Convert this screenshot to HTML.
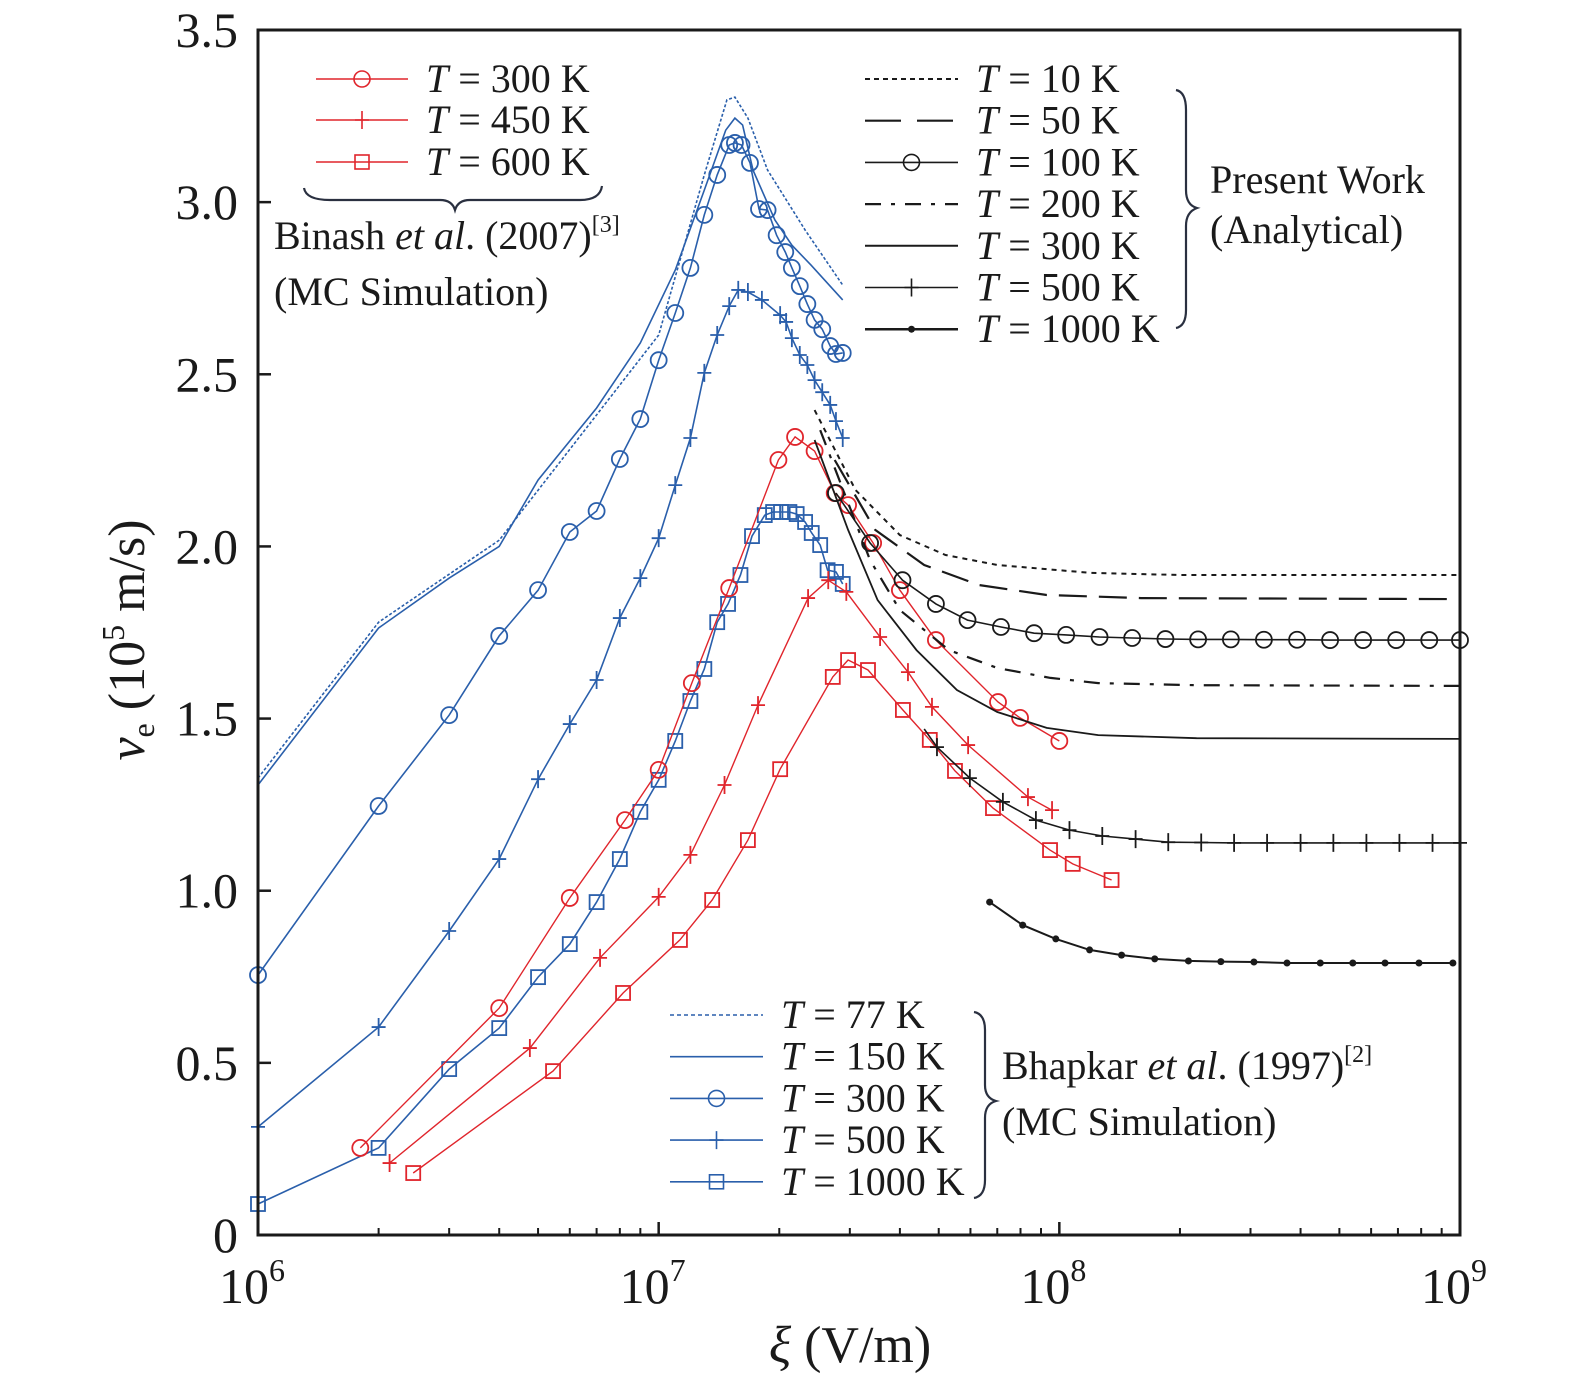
<!DOCTYPE html>
<html><head><meta charset="utf-8"><style>
html,body{margin:0;padding:0;background:#fff;}
svg{display:block;font-family:"Liberation Serif",serif;}
</style></head><body>
<svg id="chart" width="1575" height="1386" viewBox="0 0 1575 1386" xmlns="http://www.w3.org/2000/svg"></svg>
<script>
// ---- data ----
const yTicks = [0, 0.5, 1.0, 1.5, 2.0, 2.5, 3.0, 3.5];
const yTickLabels = ["0", "0.5", "1.0", "1.5", "2.0", "2.5", "3.0", "3.5"];
const xDecades = [6, 7, 8, 9];

// Bhapkar (blue)
const b77x = [1e6,2e6,4e6,1e7,1.3e7,1.48e7,1.55e7,1.67e7,1.87e7,2.32e7,2.88e7];
const b77y = [1.327,1.78,2.018,2.614,3.079,3.297,3.305,3.244,3.093,2.919,2.759];
const b150x = [1e6,2e6,3e6,4e6,5e6,7e6,9e6,1.1e7,1.3e7,1.47e7,1.55e7,1.62e7,1.72e7,1.95e7,2.15e7,2.4e7,2.88e7];
const b150y = [1.307,1.763,1.908,2.0,2.193,2.402,2.591,2.803,3.035,3.209,3.244,3.224,3.093,2.948,2.875,2.817,2.716];
const b300x = [1e6,2e6,3e6,4e6,5e6,6e6,7e6,8e6,9e6,1e7,1.1e7,1.2e7,1.3e7,1.4e7,1.5e7,1.55e7,1.61e7,1.69e7,1.78e7,1.87e7,1.97e7,2.07e7,2.15e7,2.25e7,2.35e7,2.45e7,2.56e7,2.68e7,2.77e7,2.88e7];
const b300y = [0.755,1.246,1.51,1.74,1.873,2.042,2.103,2.254,2.37,2.541,2.678,2.809,2.963,3.079,3.166,3.172,3.166,3.114,2.98,2.977,2.904,2.855,2.809,2.756,2.704,2.658,2.631,2.582,2.559,2.562];
const b500x = [1e6,2e6,3e6,4e6,5e6,6e6,7e6,8e6,9e6,1e7,1.1e7,1.2e7,1.3e7,1.4e7,1.5e7,1.58e7,1.67e7,1.81e7,2.01e7,2.08e7,2.15e7,2.25e7,2.35e7,2.45e7,2.56e7,2.68e7,2.77e7,2.88e7];
const b500y = [0.314,0.604,0.883,1.092,1.324,1.484,1.612,1.792,1.908,2.024,2.178,2.315,2.504,2.614,2.698,2.745,2.739,2.716,2.672,2.652,2.605,2.556,2.527,2.483,2.448,2.411,2.364,2.315];
const b1000x = [1e6,2e6,3e6,4e6,5e6,6e6,7e6,8e6,9e6,1e7,1.1e7,1.2e7,1.3e7,1.4e7,1.49e7,1.6e7,1.71e7,1.84e7,1.93e7,2.02e7,2.12e7,2.21e7,2.32e7,2.41e7,2.53e7,2.64e7,2.77e7,2.88e7];
const b1000y = [0.09,0.253,0.482,0.601,0.749,0.845,0.967,1.092,1.229,1.322,1.435,1.551,1.644,1.78,1.833,1.917,2.03,2.091,2.1,2.1,2.1,2.094,2.071,2.039,2.004,1.931,1.926,1.891];

// Binash (red)
const r300x = [1.8e6,4e6,6e6,8.24e6,1e7,1.21e7,1.5e7,1.99e7,2.19e7,2.45e7,2.75e7,2.97e7,3.43e7,4e7,4.92e7,7.03e7,7.98e7,1e8];
const r300y = [0.253,0.659,0.979,1.205,1.351,1.603,1.879,2.251,2.318,2.277,2.155,2.12,2.01,1.873,1.728,1.548,1.502,1.435];
const r450x = [2.13e6,4.77e6,7.14e6,1e7,1.2e7,1.46e7,1.77e7,2.36e7,2.65e7,2.94e7,3.57e7,4.19e7,4.81e7,5.92e7,8.35e7,9.59e7];
const r450y = [0.209,0.543,0.805,0.982,1.104,1.307,1.539,1.85,1.902,1.868,1.737,1.635,1.534,1.423,1.272,1.234];
const r600x = [2.44e6,5.45e6,8.15e6,1.13e7,1.36e7,1.67e7,2.01e7,2.72e7,2.97e7,3.33e7,4.07e7,4.75e7,5.49e7,6.83e7,9.48e7,1.08e8,1.35e8];
const r600y = [0.18,0.476,0.703,0.857,0.973,1.147,1.353,1.621,1.67,1.641,1.525,1.438,1.348,1.24,1.118,1.078,1.031];

// Present work (black)
const k10x = [2.45e7,3.1e7,4e7,5.2e7,7e7,1.2e8,2e8,1e9];
const k10y = [2.396,2.164,2.033,1.975,1.946,1.923,1.917,1.917];
const k50x = [2.75e7,3.47e7,4.6e7,6.3e7,9.3e7,1.6e8,1e9];
const k50y = [2.251,2.048,1.946,1.888,1.859,1.85,1.847];
const k100x = [2.77e7,3.37e7,4.06e7,4.92e7,5.9e7,7.15e7,8.65e7,1.04e8,1.26e8,1.52e8,1.84e8,2.22e8,2.68e8,3.24e8,3.92e8,4.74e8,5.73e8,6.93e8,8.38e8,1e9];
const k100y = [2.155,2.01,1.902,1.833,1.786,1.766,1.748,1.743,1.737,1.734,1.731,1.73,1.73,1.729,1.729,1.728,1.728,1.728,1.728,1.728];
const k200x = [2.53e7,3.37e7,4e7,5.3e7,7e7,9.5e7,1.25e8,2.2e8,1e9];
const k200y = [2.338,1.96,1.815,1.699,1.647,1.618,1.603,1.597,1.595];
const k300x = [2.45e7,2.97e7,3.52e7,4.4e7,5.55e7,7e7,9.3e7,1.25e8,2.2e8,1e9];
const k300y = [2.309,2.048,1.844,1.699,1.583,1.519,1.473,1.452,1.443,1.441];
const k500x = [4.6e7,4.95e7,5.98e7,7.23e7,8.74e7,1.06e8,1.28e8,1.55e8,1.87e8,2.26e8,2.73e8,3.3e8,4e8,4.83e8,5.84e8,7.06e8,8.54e8,1e9];
const k500y = [1.47,1.417,1.327,1.258,1.205,1.176,1.159,1.15,1.141,1.14,1.139,1.139,1.139,1.139,1.139,1.139,1.139,1.139];
const k1000x = [6.7e7,8.1e7,9.8e7,1.19e8,1.43e8,1.73e8,2.1e8,2.53e8,3.06e8,3.7e8,4.48e8,5.4e8,6.5e8,7.9e8,9.6e8];
const k1000y = [0.967,0.9,0.86,0.828,0.813,0.802,0.796,0.794,0.793,0.79,0.79,0.79,0.79,0.79,0.79];

// ---- layout ----
const L=258,R=1460,T=30,B=1235;
const xs = v => L + (Math.log10(v)-6)/3*(R-L);
const ys = v => B - v/3.5*(B-T);
const NS="http://www.w3.org/2000/svg";
const svg=document.getElementById('chart');
function mk(tag,attrs,parent){const e=document.createElementNS(NS,tag);for(const k in attrs)e.setAttribute(k,attrs[k]);(parent||svg).appendChild(e);return e;}
const RED="#e0252c", BLUE="#2a5fab", BLK="#1a1a1a";

function marker(g,type,x,y,c,w){
  if(type==='circle'){const m=mk('circle',{cx:x,cy:y,r:8,fill:'none',stroke:c,'stroke-width':w||2},g);}
  else if(type==='square'){const m=mk('rect',{x:x-7,y:y-7,width:14,height:14,fill:'none',stroke:c,'stroke-width':w||2},g);}
  else if(type==='plus'){const m=mk('path',{d:`M${x-7},${y}H${x+7}M${x},${y-9}V${y+9}`,stroke:c,'stroke-width':w||2,fill:'none'},g);}
  else if(type==='dot'){const m=mk('circle',{cx:x,cy:y,r:3.5,fill:c},g);}
}
function series(name,xa,ya,c,w,dash,mtype){
  const g=mk('g',{});
  
  
  const d=xa.map((v,i)=>(i?'L':'M')+xs(v).toFixed(1)+','+ys(ya[i]).toFixed(1)).join('');
  const p=mk('path',{d:d,fill:'none',stroke:c,'stroke-width':w,'stroke-dasharray':dash||'none'},g);
  
  
  if(mtype) xa.forEach((v,i)=>{ if(name==='present-500k'&&i===0) return; marker(g,mtype,xs(v),ys(ya[i]),c,mtype==='dot'?0:1.8);});
}

series('bhapkar-77k',b77x,b77y,BLUE,1.6,'3,2',null);
series('bhapkar-150k',b150x,b150y,BLUE,1.6,null,null);
series('bhapkar-300k',b300x,b300y,BLUE,1.6,null,'circle');
series('bhapkar-500k',b500x,b500y,BLUE,1.6,null,'plus');
series('bhapkar-1000k',b1000x,b1000y,BLUE,1.6,null,'square');
series('binash-300k',r300x,r300y,RED,1.4,null,'circle');
series('binash-450k',r450x,r450y,RED,1.4,null,'plus');
series('binash-600k',r600x,r600y,RED,1.4,null,'square');
series('present-10k',k10x,k10y,BLK,2,'5,5',null);
series('present-50k',k50x,k50y,BLK,2.2,'28,12',null);
series('present-100k',k100x,k100y,BLK,1.6,null,'circle');
series('present-200k',k200x,k200y,BLK,2.2,'16,10,4,10',null);
series('present-300k',k300x,k300y,BLK,1.8,null,null);
series('present-500k',k500x,k500y,BLK,1.6,null,'plus');
series('present-1000k',k1000x,k1000y,BLK,2,null,'dot');

const frame=mk('rect',{x:L,y:T,width:R-L,height:B-T,fill:'none',stroke:BLK,'stroke-width':3});



yTicks.forEach((v,i)=>{
  const y=ys(v);
  const t=mk('line',{x1:L,x2:L+13,y1:y,y2:y,stroke:BLK,'stroke-width':2.5});
  
  
  const lb=mk('text',{x:L-20,y:y+17,'text-anchor':'end','font-size':50,fill:BLK});
  lb.textContent=yTickLabels[i];
  
  
});
xDecades.forEach((d,i)=>{
  const x=xs(Math.pow(10,d));
  const t=mk('line',{x1:x,x2:x,y1:B,y2:B-13,stroke:BLK,'stroke-width':2.5});
  
  
  const lb=mk('text',{x:x-6,y:B+68,'text-anchor':'middle','font-size':50,fill:BLK});
  lb.innerHTML='10<tspan dy="-22" font-size="32">'+d+'</tspan>';
  
  
  if(i<3){for(let m=2;m<=9;m++){const xm=xs(m*Math.pow(10,d));
    const tm=mk('line',{x1:xm,x2:xm,y1:B,y2:B-7,stroke:BLK,'stroke-width':2});
    
    }}
});
const xt=mk('text',{x:850,y:1362,'text-anchor':'middle','font-size':52,fill:BLK});
xt.innerHTML='<tspan font-style="italic">ξ</tspan> (V/m)';


const yt=mk('text',{x:0,y:0,'text-anchor':'middle','font-size':52,fill:BLK,transform:'translate(144,640) rotate(-90)'});
yt.innerHTML='<tspan font-style="italic">v</tspan><tspan font-size="32" dy="10">e</tspan><tspan dy="-10"> (10</tspan><tspan font-size="32" dy="-20">5</tspan><tspan dy="20"> m/s)</tspan>';



function legendEntry(name,x1,x2,y,c,w,dash,mtype,label){
  const g=mk('g',{});
  
  
  mk('line',{x1:x1,x2:x2,y1:y,y2:y,stroke:c,'stroke-width':w,'stroke-dasharray':dash||'none'},g);
  if(mtype) marker(g,mtype,(x1+x2)/2,y,c,mtype==='dot'?0:1.6);
  const t=mk('text',{x:x2+18,y:y+13,'font-size':40,fill:BLK},g);
  t.innerHTML='<tspan font-style="italic">T</tspan> = '+label;
}
legendEntry('legend-binash-300k',316,408,79,RED,1.5,null,'circle','300 K');
legendEntry('legend-binash-450k',316,408,120,RED,1.5,null,'plus','450 K');
legendEntry('legend-binash-600k',316,408,162,RED,1.5,null,'square','600 K');
const lab=[['legend-present-10k','5,4',2,null,'10 K'],['legend-present-50k','36,16',2.2,null,'50 K'],['legend-present-100k',null,1.6,'circle','100 K'],['legend-present-200k','16,10,4,10',2.2,null,'200 K'],['legend-present-300k',null,2,null,'300 K'],['legend-present-500k',null,1.6,'plus','500 K'],['legend-present-1000k',null,2.5,'dot','1000 K']];
lab.forEach((a,i)=>legendEntry(a[0],865,958,79+41.7*i,BLK,a[2],a[1],a[3],a[4]));
const lbb=[['legend-bhapkar-77k','4,3',null,'77 K'],['legend-bhapkar-150k',null,null,'150 K'],['legend-bhapkar-300k',null,'circle','300 K'],['legend-bhapkar-500k',null,'plus','500 K'],['legend-bhapkar-1000k',null,'square','1000 K']];
lbb.forEach((a,i)=>legendEntry(a[0],670,763,1015+41.7*i,BLUE,1.6,a[1],a[2],a[3]));

function brace(name,d){const p=mk('path',{d:d,fill:'none',stroke:'#2a3040','stroke-width':2.2});}
brace('binash-brace','M304,188 Q306,200 330,200 L440,200 Q452,200 455,210 Q458,200 470,200 L580,200 Q600,200 602,186');
brace('present-brace','M1176,90 Q1186,92 1186,110 L1186,190 Q1186,205 1197,208 Q1186,212 1186,226 L1186,310 Q1186,326 1176,328');
brace('bhapkar-brace','M974,1012 Q985,1014 985,1030 L985,1085 Q985,1098 996,1101 Q985,1104 985,1118 L985,1180 Q985,1196 974,1198');

function txt(name,x,y,html){const t=mk('text',{x:x,y:y,'font-size':40,fill:BLK});t.innerHTML=html;}
txt('binash-label',274,249,'Binash <tspan font-style="italic">et al</tspan>. (2007)<tspan font-size="24" dy="-17">[3]</tspan>');
txt('binash-sublabel',274,305,'(MC Simulation)');
txt('present-label',1210,193,'Present Work');
txt('present-sublabel',1210,243,'(Analytical)');
txt('bhapkar-label',1002,1079,'Bhapkar <tspan font-style="italic">et al</tspan>. (1997)<tspan font-size="24" dy="-17">[2]</tspan>');
txt('bhapkar-sublabel',1002,1135,'(MC Simulation)');
</script>
</body></html>
